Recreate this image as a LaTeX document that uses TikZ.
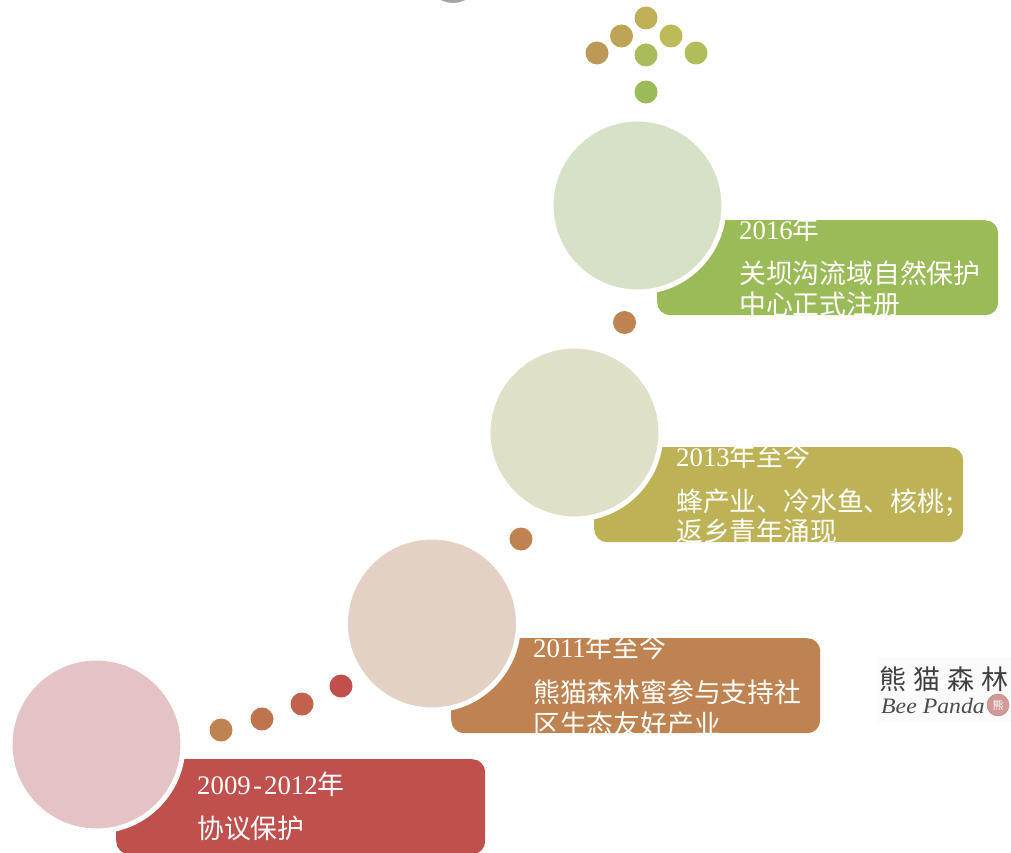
\documentclass[tikz,border=0pt]{standalone}
\usepackage{fontspec}
\setmainfont{Liberation Serif}
\newfontfamily\cjk{Noto Sans CJK SC}
\definecolor{cRed}{HTML}{C0504D}
\definecolor{cOra}{HTML}{BF8351}
\definecolor{cOli}{HTML}{BDB255}
\definecolor{cGrn}{HTML}{9BBB59}
\definecolor{dRed}{HTML}{E3C3C5}
\definecolor{dOra}{HTML}{E3D1C5}
\definecolor{dOli}{HTML}{E0DFC7}
\definecolor{dGrn}{HTML}{D7E1C7}
\tikzset{
  card/.style={rounded corners=13pt,draw=none,minimum height=95pt,anchor=north west,inner sep=0pt},
  disc/.style={circle,draw=white,line width=5pt,minimum size=173pt,inner sep=0pt},
  dot/.style={circle,minimum size=23pt,inner sep=0pt,draw=none},
  yr/.style={text=white,anchor=base west,inner sep=0pt,font=\fontsize{26.8}{28}\selectfont},
  txt/.style={text=white,anchor=base west,inner sep=0pt,font=\fontsize{26.8}{28}\cjk},
}
\begin{document}
\begin{tikzpicture}[x=1pt,y=-1pt]
\useasboundingbox (0,0) rectangle (1011,853);
\fill[white] (0,0) rectangle (1011,853);
\begin{scope}
\clip (0,0) rectangle (1011,853);
\fill[black!35] (453,-24) circle (27);
% cards
\node[card,fill=cRed,minimum width=369pt] (c1) at (116,759) {};
\node[card,fill=cOra,minimum width=369pt] (c2) at (451,638) {};
\node[card,fill=cOli,minimum width=369pt] (c3) at (594,447) {};
\node[card,fill=cGrn,minimum width=341pt] (c4) at (657,220) {};
\end{scope}
% discs
\node[disc,fill=dRed] (d1) at (96.5,744.5) {};
\node[disc,fill=dOra] (d2) at (432,623.5) {};
\node[disc,fill=dOli] (d3) at (574.5,432.5) {};
\node[disc,fill=dGrn] (d4) at (637.5,205.5) {};
% dots
\node[dot,fill=cOra] (p1) at (221,730) {};
\node[dot,fill=cOra!70!cRed] (p2) at (262,719) {};
\node[dot,fill=cOra!35!cRed] (p3) at (302,704) {};
\node[dot,fill=cRed] (p4) at (341,686) {};
\node[dot,fill=cOra] (p5) at (521,539) {};
\node[dot,fill=cOra] (p6) at (624.5,322.5) {};
\node[dot,fill=cGrn] (a1) at (646,92) {};
\node[dot,fill={rgb,255:red,169;green,187;blue,91}] (a2) at (646,55) {};
\node[dot,fill={rgb,255:red,177;green,189;blue,90}] (a3) at (696,53) {};
\node[dot,fill={rgb,255:red,189;green,187;blue,87}] (a4) at (671,36) {};
\node[dot,fill={rgb,255:red,189;green,176;blue,87}] (a5) at (646,18) {};
\node[dot,fill={rgb,255:red,189;green,164;blue,87}] (a6) at (621.5,36) {};
\node[dot,fill={rgb,255:red,188;green,154;blue,85}] (a7) at (597,53) {};
% texts
\node[yr] (t1a) at (197,794) {2009\hspace{2.2pt}-\hspace{2.2pt}2012{\cjk 年}};
\node[txt] (t1b) at (197,838) {协议保护};
\node[yr] (t2a) at (533,657) {2011{\cjk 年至今}};
\node[txt] (t2b) at (533,702) {熊猫森林蜜参与支持社};
\node[txt] (t2c) at (533,734) {区生态友好产业};
\node[yr] (t3a) at (676,466) {2013{\cjk 年至今}};
\node[txt] (t3b) at (676,511) {蜂产业、冷水鱼、核桃\hspace{2pt};};
\node[txt] (t3c) at (676,541) {返乡青年涌现};
\node[yr] (t4a) at (739,239) {2016{\cjk 年}};
\node[txt] (t4b) at (739,283) {关坝沟流域自然保护};
\node[txt] (t4c) at (739,314) {中心正式注册};
% logo
\fill[black!1.5] (877,657) rectangle (1011,722);
\node[text=black!75,anchor=base west,inner sep=0pt,font=\fontsize{27}{28}\cjk] (l1) at (879,689) {熊\hspace{7pt}猫\hspace{7pt}森\hspace{7pt}林};
\node[text=black!70,anchor=base west,inner sep=0pt,font=\fontsize{22}{22}\itshape,xscale=1.08] (l2) at (881,713) {Bee Panda};
\node[circle,fill=red!55!black!40!white,draw=red!50!black!50!white,minimum size=22pt,inner sep=0pt,text=white,font=\fontsize{11}{11}\cjk] (l3) at (998,705) {熊};
\end{tikzpicture}
\end{document}
